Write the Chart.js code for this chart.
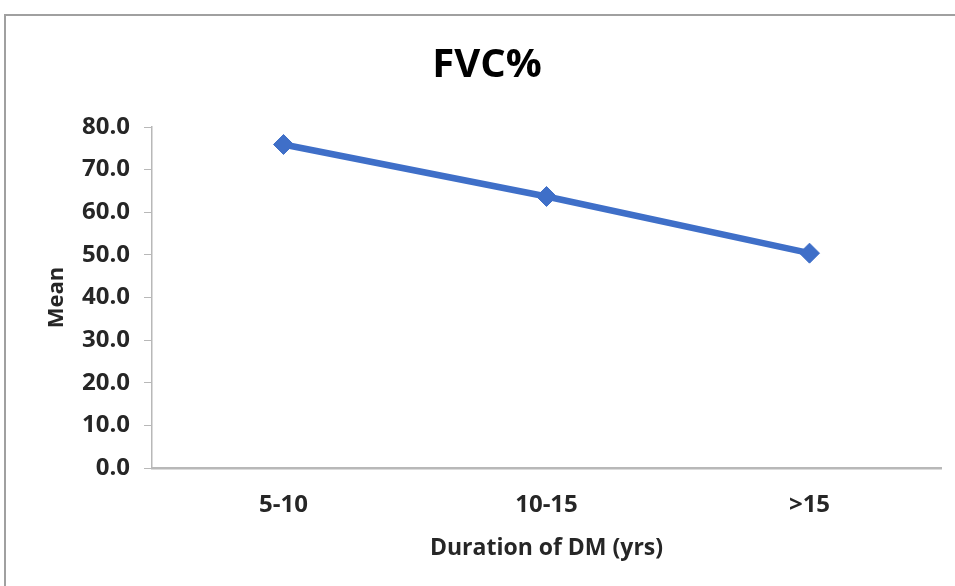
<!DOCTYPE html>
<html>
<head>
<meta charset="utf-8">
<script src="https://cdn.jsdelivr.net/npm/chart.js@4"></script>
<style>
  html, body { margin: 0; padding: 0; background: #fff; overflow: hidden; }
  #frame {
    position: absolute; left: 4px; top: 14px;
    width: 960px; height: 580px;
    border-top: 2px solid #a0a0a0; border-left: 2px solid #a0a0a0;
  }
  #fvcChart { display: block; }
</style>
</head>
<body>
<div id="frame"><canvas id="fvcChart" width="949" height="570"></canvas></div>
<script>
/* ---------- DATA ---------- */
const durations = ["5-10", "10-15", ">15"];
const fvcMean = [75.9, 63.7, 50.4];
const yTicks = [0, 10, 20, 30, 40, 50, 60, 70, 80];

const FONT = "'Open Sans', 'Liberation Sans', sans-serif";
const BLUE = "#3f6fc8";

/* ---------- FVC CHART ---------- */
try {
  new Chart(document.getElementById("fvcChart"), {
    type: 'line',
    data: {
      labels: durations,
      datasets: [{
        label: "FVC%",
        data: fvcMean,
        borderColor: BLUE,
        backgroundColor: BLUE,
        borderWidth: 6.5,
        pointStyle: 'rectRot',
        pointRadius: 10,
        pointBorderWidth: 1,
        tension: 0
      }]
    },
    options: {
      responsive: false,
      animation: false,
      // left padding shifts the centred title towards the plot, like the original
      layout: { padding: { left: 27, right: 14, top: 0, bottom: 0 } },
      plugins: {
        legend: { display: false },
        tooltip: { enabled: false },
        title: {
          display: true,
          text: "FVC%",
          color: "#000",
          font: { family: FONT, size: 40, weight: 'bold' },
          padding: { top: 25.5, bottom: 37.5 }
        }
      },
      scales: {
        x: {
          offset: true,
          grid: { display: true, drawOnChartArea: false, drawTicks: false },
          border: { color: "#b8b8b8", width: 2.5 },
          ticks: {
            color: "#262626",
            padding: 23,
            font: { family: FONT, size: 24, weight: 'bold' }
          },
          title: {
            display: true,
            text: "Duration of DM (yrs)",
            color: "#262626",
            font: { family: FONT, size: 23, weight: 'bold' },
            padding: { top: 24, bottom: 24 }
          },
          afterFit(scale) { scale.height = 118; }
        },
        y: {
          min: 0,
          max: 80,
          afterBuildTicks(scale) { scale.ticks = yTicks.map(v => ({ value: v })); },
          grid: { drawOnChartArea: false, drawTicks: true, tickLength: 8, color: "#b8b8b8" },
          border: { color: "#b8b8b8", width: 1.5 },
          ticks: {
            color: "#262626",
            padding: 14,
            font: { family: FONT, size: 24, weight: 'bold' },
            callback: v => Number(v).toFixed(1)
          },
          title: {
            display: true,
            text: "Mean",
            color: "#262626",
            font: { family: FONT, size: 22, weight: 'bold' },
            padding: { top: 11, bottom: 11 }
          },
          afterFit(scale) { scale.width = 119; }
        }
      }
    }
  });
} catch (e) {
  console.error('Error initializing FVC chart:', e);
}
</script>
</body>
</html>
